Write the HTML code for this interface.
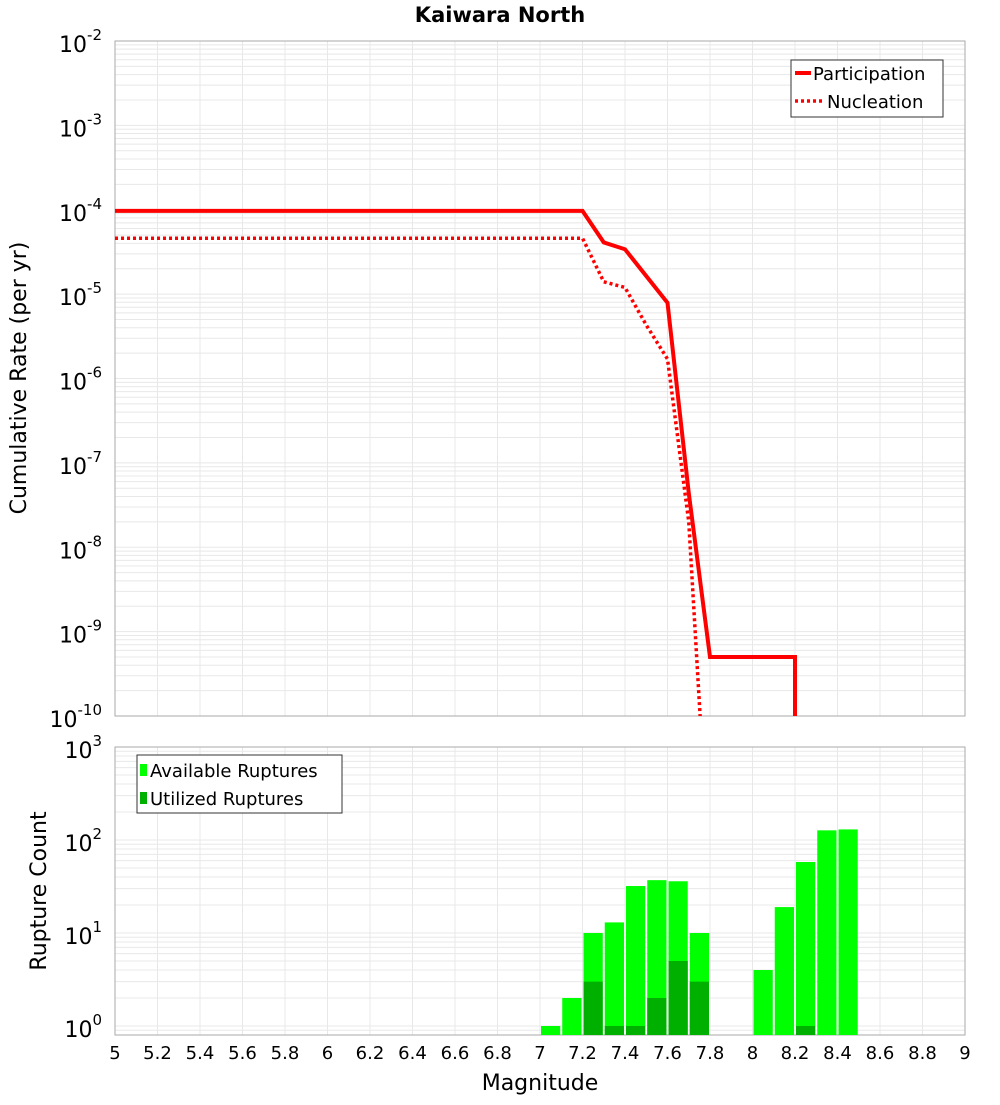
<!DOCTYPE html>
<html><head><meta charset="utf-8"><style>
body{margin:0;background:#fff;font-family:"Liberation Sans","DejaVu Sans",sans-serif}
svg text{font-family:"DejaVu Sans","Liberation Sans",sans-serif}
</style></head><body>
<svg id="c" width="1000" height="1100" xmlns="http://www.w3.org/2000/svg"></svg>
<script>
const partX=[5,7.2,7.3,7.4,7.6,7.7,7.8,8.2,8.2];
const partY=[9.7e-5,9.7e-5,4.1e-5,3.4e-5,7.9e-6,4.4e-8,5e-10,5e-10,1e-12];
const nuclX=[5,7.2,7.3,7.4,7.5,7.6,7.7,7.8];
const nuclY=[4.6e-5,4.6e-5,1.4e-5,1.2e-5,4.3e-6,1.7e-6,2e-8,1e-12];
const binCenters=[7.05,7.15,7.25,7.35,7.45,7.55,7.65,7.75,8.05,8.15,8.25,8.35,8.45];
const availCounts=[1,2,10,13,32,37,36,10,4,19,58,127,130];
const usedCounts=[0,0,3,1,1,2,5,3,0,0,1,0,0];
const xTicks=[5,5.2,5.4,5.6,5.8,6,6.2,6.4,6.6,6.8,7,7.2,7.4,7.6,7.8,8,8.2,8.4,8.6,8.8,9];
const topExps=[-2,-3,-4,-5,-6,-7,-8,-9,-10];
const botExps=[3,2,1,0];

const S=document.getElementById('c');const NS='http://www.w3.org/2000/svg';
function mk(t,a,p){const e=document.createElementNS(NS,t);for(const k in a)e.setAttribute(k,a[k]);(p||S).appendChild(e);return e;}
const X0=115,X1=965;
const x=v=>X0+(v-5)/4*(X1-X0);
const T0=41,T1=716;const yT=v=>T0+(-2-Math.log10(v))*(T1-T0)/8;
const B0=747,B1=1035,BDEC=93;const yB=v=>1026-Math.log10(v)*BDEC;

// title
let t=mk('text',{x:500,y:22,'text-anchor':'middle','font-size':21,'font-weight':'bold'});t.textContent='Kaiwara North';



function grid(y0,y1,yf,expLo,expHi){
  const g=mk('g',{});
  
  
  for(let e=expLo;e<expHi;e++)for(let m=1;m<10;m++){const yy=yf(m*Math.pow(10,e));if(yy>=y0&&yy<=y1)mk('line',{x1:X0,x2:X1,y1:yy,y2:yy,stroke:'#e8e8e8','stroke-width':1},g);}
  xTicks.forEach(v=>mk('line',{x1:x(v),x2:x(v),y1:y0,y2:y1,stroke:'#e8e8e8','stroke-width':1},g));
}
grid(T0,T1,yT,-10,-2);
grid(B0,B1,yB,-1,3);
let f1=mk('rect',{x:X0,y:T0,width:X1-X0,height:T1-T0,fill:'none',stroke:'#aaa'});

let f2=mk('rect',{x:X0,y:B0,width:X1-X0,height:B1-B0,fill:'none',stroke:'#aaa'});


// y tick labels
topExps.forEach(e=>{const tt=mk('text',{x:102,y:yT(Math.pow(10,e))+11,'text-anchor':'end','font-size':22});
 tt.innerHTML='10<tspan dy="-12" font-size="15">'+e+'</tspan>';
 });
botExps.forEach(e=>{const tt=mk('text',{x:102,y:yB(Math.pow(10,e))+11-(e==3?0:0),'text-anchor':'end','font-size':22});
 tt.innerHTML='10<tspan dy="-12" font-size="15">'+e+'</tspan>';
 });
xTicks.forEach(v=>{const tt=mk('text',{x:x(v),y:1059,'text-anchor':'middle','font-size':18});tt.textContent=String(v);
 });

// clip for top lines
const cp=mk('clipPath',{id:'cpT'});mk('rect',{x:X0,y:T0,width:X1-X0,height:T1-T0},cp);
const pp=partX.map((v,i)=>x(v)+','+yT(partY[i])).join(' ');
let l1=mk('polyline',{points:pp,fill:'none',stroke:'#f00','stroke-width':4,'clip-path':'url(#cpT)'});

const np=nuclX.map((v,i)=>x(v)+','+yT(nuclY[i])).join(' ');
let l2=mk('polyline',{points:np,fill:'none',stroke:'#f00','stroke-width':3.5,'stroke-dasharray':'3,3','clip-path':'url(#cpT)'});


// bars
const bw=(x(5.1)-x(5))-2;
binCenters.forEach((c,i)=>{
 const a=availCounts[i];if(a>0){const r=mk('rect',{x:x(c)-bw/2,y:yB(a),width:bw,height:B1-yB(a),fill:'#00ff00'});
  }
 const u=usedCounts[i];if(u>0){const r=mk('rect',{x:x(c)-bw/2,y:yB(u),width:bw,height:B1-yB(u),fill:'#00b000'});
  }
});

// axis titles
let ya=mk('text',{x:0,y:0,transform:'translate(26,378) rotate(-90)','text-anchor':'middle','font-size':22});ya.textContent='Cumulative Rate (per yr)';

let yb=mk('text',{x:0,y:0,transform:'translate(46,891) rotate(-90)','text-anchor':'middle','font-size':22});yb.textContent='Rupture Count';

let xa=mk('text',{x:540,y:1090,'text-anchor':'middle','font-size':22});xa.textContent='Magnitude';


// legends
let lg=mk('g',{});
mk('rect',{x:791,y:60,width:152,height:57,fill:'#fff',stroke:'#333'},lg);
mk('line',{x1:795,x2:811,y1:73,y2:73,stroke:'#f00','stroke-width':4},lg);
mk('line',{x1:795,x2:823,y1:101,y2:101,stroke:'#f00','stroke-width':3.5,'stroke-dasharray':'3,3'},lg);
let a1=mk('text',{x:813,y:80,'font-size':18},lg);a1.textContent='Participation';
let a2=mk('text',{x:827,y:108,'font-size':18},lg);a2.textContent='Nucleation';
let lb=mk('g',{});
mk('rect',{x:137,y:755,width:205,height:58,fill:'#fff',stroke:'#333'},lb);
mk('rect',{x:140,y:764,width:7,height:12,fill:'#00ff00'},lb);
mk('rect',{x:140,y:792,width:7,height:12,fill:'#00b000'},lb);
let b1=mk('text',{x:150,y:777,'font-size':18},lb);b1.textContent='Available Ruptures';
let b2=mk('text',{x:150,y:805,'font-size':18},lb);b2.textContent='Utilized Ruptures';
</script>
</body></html>
